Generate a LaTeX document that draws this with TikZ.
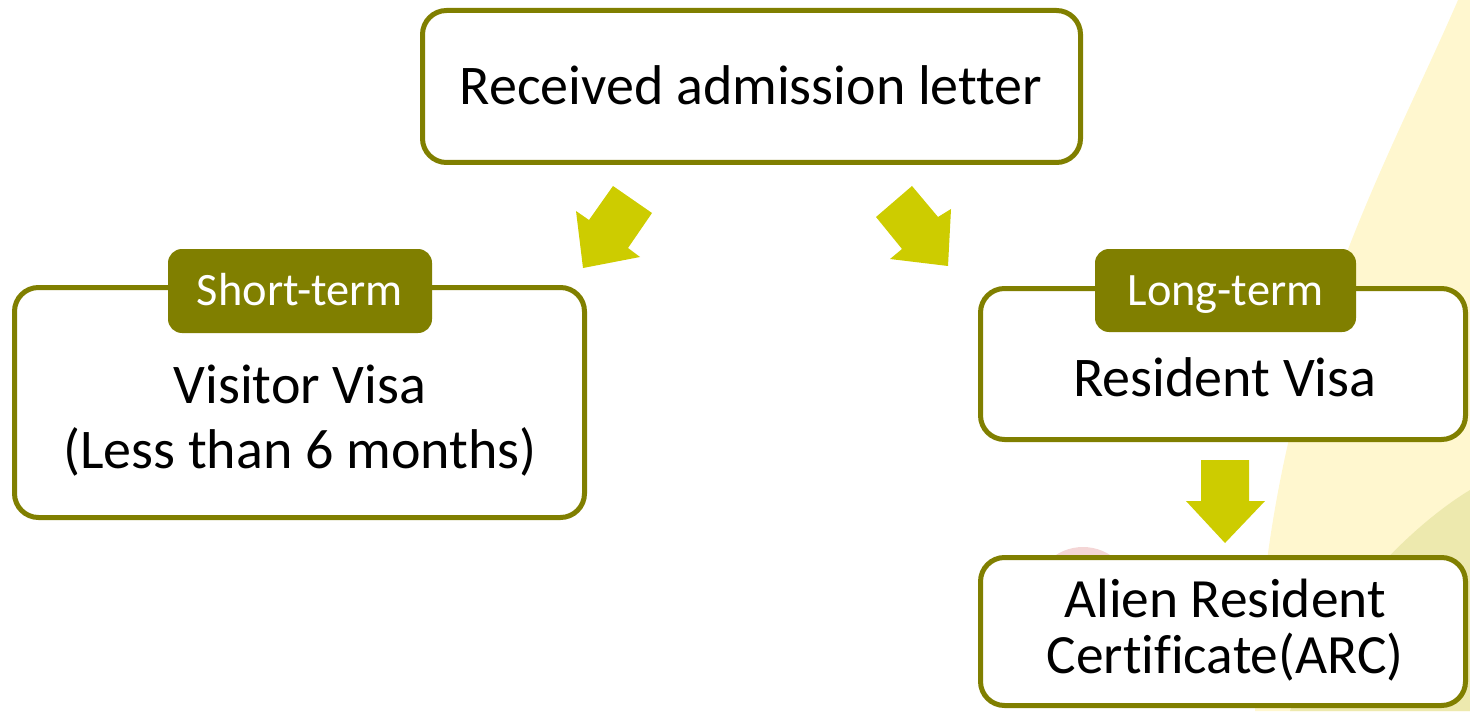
\documentclass[tikz,border=0pt]{standalone}
\usepackage{fontspec}
\setmainfont{Carlito}[Ligatures={NoCommon}]
\definecolor{olive}{HTML}{807F00}
\definecolor{arrowyel}{HTML}{CDCC00}
\definecolor{bgyel}{HTML}{FFF7CF}
\definecolor{bggreen}{HTML}{EDE9AE}
\definecolor{bgpink}{HTML}{F4D6D6}
\begin{document}
\begin{tikzpicture}[x=0.5pt,y=-0.5pt,
  box/.style={draw=olive, line width=2.5pt, fill=white, rounded corners=12pt, inner sep=0pt},
  tag/.style={fill=olive, rounded corners=7pt, inner sep=0pt, text=white, text height=17.5pt, text depth=3pt, font=\fontsize{23.2}{26}\selectfont},
  maintext/.style={align=center, inner sep=0pt, font=\fontsize{28}{32.5}\selectfont},
  blockarrow/.style={fill=arrowyel, draw=none}]
\useasboundingbox (0,0) rectangle (1470,711);
% background
\fill[bgyel] (1458,0) .. controls (1380,180) and (1265,370) .. (1255,711) -- (1470,711) -- (1470,0) -- cycle;
\fill[bggreen] (1470,490) .. controls (1420,520) and (1330,600) .. (1290,711) -- (1470,711) -- cycle;
\fill[bgpink] (1083,597) circle[radius=50];
% top box
\node[box, minimum width=329pt, minimum height=76pt] (top) at (751.5,86.5) {};
\node[maintext] (toptext) at (751,85) {Received admission letter};
% left box
\node[box, minimum width=285pt, minimum height=115pt] (left) at (299.5,402.5) {};
\node[tag, minimum width=132pt, minimum height=42pt] (short) at (300,291) {Short-term};
\node[maintext] (lefttext) at (300,421) {Visitor Visa\\(Less than 6 months)};
% right box
\node[box, minimum width=242.5pt, minimum height=75.5pt] (right) at (1223,364) {};
\node[tag, minimum width=130.5pt, minimum height=41.5pt] (long) at (1225.5,290.5) {Long-term};
\node[maintext] (righttext) at (1225,377) {Resident Visa};
% ARC box
\node[box, minimum width=242.5pt, minimum height=74pt] (arc) at (1223,631.5) {};
\node[maintext, font=\fontsize{27.7}{28}\selectfont] (arctext) at (1225,630) {Alien Resident\\Certificate(ARC)};
% block arrows
\fill[blockarrow] (583,268) -- (576,211) -- (589,220) -- (613,186) -- (652,213) -- (628,248) -- (640,257) -- cycle;
\fill[blockarrow] (948,266) -- (951,209) -- (938,217) -- (912,186) -- (876,217) -- (902,249) -- (890,259) -- cycle;
\fill[blockarrow] (1201,460) -- (1249,460) -- (1249,501) -- (1265,501) -- (1225,543) -- (1186,501) -- (1201,501) -- cycle;
\end{tikzpicture}
\end{document}
